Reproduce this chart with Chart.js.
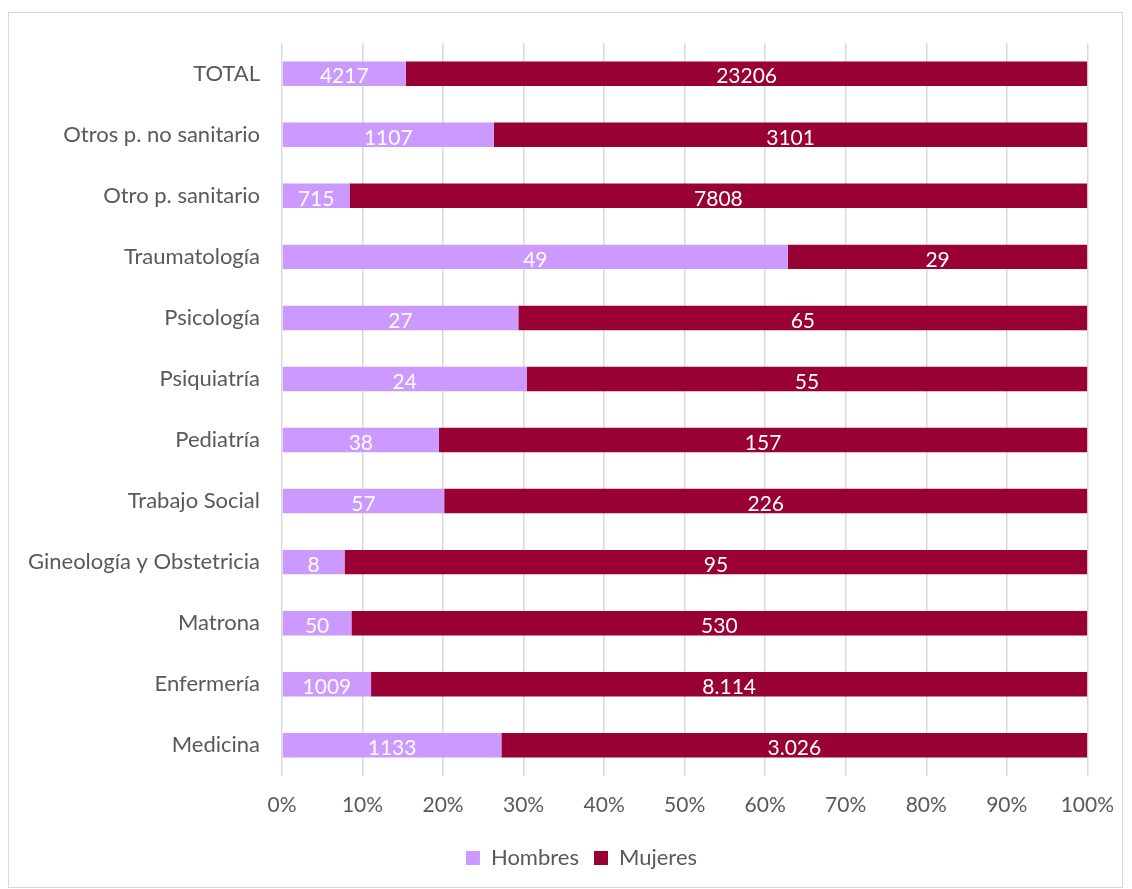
<!DOCTYPE html>
<html>
<head>
<meta charset="utf-8">
<script src="https://cdn.jsdelivr.net/npm/chart.js@4.4.1/dist/chart.umd.min.js"></script>
<style>
  html, body { margin: 0; padding: 0; background: #fff; }
  #box {
    position: absolute; left: 8px; top: 12px;
    width: 1115px; height: 876px;
    border: 1px solid #d9d9d9; box-sizing: border-box;
  }
  #chart { display: block; }
</style>
</head>
<body>
<div id="box"><canvas id="chart"></canvas></div>
<script>
// categories, top to bottom
const categorias = [
  "TOTAL", "Otros p. no sanitario", "Otro p. sanitario", "Traumatología",
  "Psicología", "Psiquiatría", "Pediatría", "Trabajo Social",
  "Gineología y Obstetricia", "Matrona", "Enfermería", "Medicina"
];
const hombres = [4217, 1107, 715, 49, 27, 24, 38, 57, 8, 50, 1009, 1133];
const mujeres = [23206, 3101, 7808, 29, 65, 55, 157, 226, 95, 530, 8114, 3026];
// labels as printed on the bars
const hombresEtiquetas = ["4217", "1107", "715", "49", "27", "24", "38", "57", "8", "50", "1009", "1133"];
const mujeresEtiquetas = ["23206", "3101", "7808", "29", "65", "55", "157", "226", "95", "530", "8.114", "3.026"];
const ticksX = ["0%", "10%", "20%", "30%", "40%", "50%", "60%", "70%", "80%", "90%", "100%"];

const FONT = "Lato, 'Open Sans', sans-serif";
const GRIS = "#595959";

// share of each group per category, for the 100% stack
const pct = (arr) => arr.map((v, i) => 100 * v / (hombres[i] + mujeres[i]));

// draw the value labels in the middle of each segment
const etiquetas = {
  id: "etiquetas",
  afterDatasetsDraw(chart) {
    const ctx = chart.ctx;
    ctx.save();
    ctx.fillStyle = "#ffffff";
    ctx.font = "21px " + FONT;
    ctx.textAlign = "center";
    ctx.textBaseline = "middle";
    chart.data.datasets.forEach((ds, di) => {
      const meta = chart.getDatasetMeta(di);
      meta.data.forEach((bar, i) => {
        const p = bar.getProps(["x", "base", "y"], true);
        const cx = (p.x + p.base) / 2;
        ctx.fillText(ds.etiquetas[i], cx, p.y + 3);
      });
    });
    ctx.restore();
  }
};

// legend sits a little right of the canvas centre and a bit higher in the original
const moverLeyenda = {
  id: "moverLeyenda",
  afterLayout(chart) {
    const l = chart.legend;
    l.left += 22; l.right += 22;
    l.top -= 8; l.bottom -= 8;
  }
};

const cv = document.getElementById("chart");
new Chart(cv, {
  type: "bar",
  data: {
    labels: categorias,
    datasets: [
      {
        label: "Hombres",
        data: pct(hombres),
        etiquetas: hombresEtiquetas,
        backgroundColor: "#CC99FF",
        barPercentage: 0.4,
        categoryPercentage: 1
      },
      {
        label: "Mujeres",
        data: pct(mujeres),
        etiquetas: mujeresEtiquetas,
        backgroundColor: "#990033",
        barPercentage: 0.4,
        categoryPercentage: 1
      }
    ]
  },
  options: {
    indexAxis: "y",
    responsive: true,
    maintainAspectRatio: false,
    animation: false,
    layout: { padding: { top: 22, right: 12, bottom: 0, left: 0 } },
    plugins: {
      tooltip: { enabled: false },
      legend: {
        position: "bottom",
        labels: {
          boxWidth: 14, boxHeight: 14,
          color: GRIS,
          font: { family: FONT, size: 22 },
          padding: 15
        }
      }
    },
    scales: {
      x: {
        stacked: true,
        min: 0, max: 100,
        grid: { color: "#d9d9d9", lineWidth: 1.5, drawTicks: false },
        border: { display: false },
        ticks: {
          stepSize: 10,
          padding: 17,
          color: GRIS,
          font: { family: FONT, size: 21 },
          callback: (v, i) => ticksX[i]
        },
        afterFit: (s) => { s.height += 5; s.paddingRight -= 9; }
      },
      y: {
        stacked: true,
        grid: { display: false, drawTicks: false },
        border: { display: false },
        ticks: {
          padding: 22,
          color: GRIS,
          font: { family: FONT, size: 22 },
          autoSkip: false
        },
        afterFit: (s) => { s.width = 273; s.paddingTop -= 5; }
      }
    }
  },
  plugins: [etiquetas, moverLeyenda]
});
</script>
</body>
</html>
